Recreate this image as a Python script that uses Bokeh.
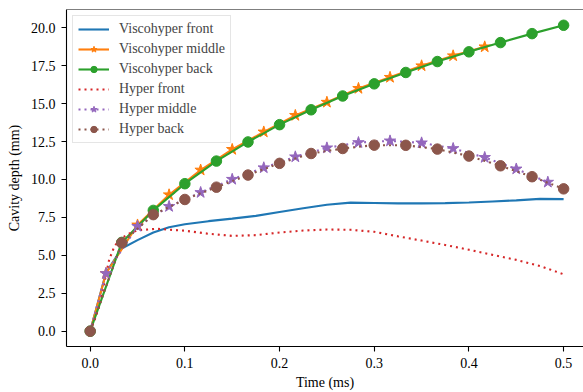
from bokeh.plotting import figure
from bokeh.models import Legend, LegendItem, Span, Range1d
from bokeh.embed import file_html
from bokeh.resources import INLINE

# ---- data (time in ms, depth in mm) ----
t_vf = [0, 0.0167, 0.0333, 0.05, 0.0667, 0.0833, 0.1, 0.125, 0.15, 0.175, 0.2, 0.225, 0.25,
        0.275, 0.3, 0.325, 0.35, 0.375, 0.4, 0.425, 0.45, 0.475, 0.5]
v_vf = [0, 3.85, 5.45, 6.0, 6.5, 6.85, 7.05, 7.25, 7.42, 7.6, 7.85, 8.1, 8.33,
        8.47, 8.45, 8.42, 8.42, 8.44, 8.48, 8.55, 8.62, 8.72, 8.70]

t_vm = [0, 1/60, 3/60, 5/60, 7/60, 9/60, 11/60, 13/60, 15/60, 17/60, 19/60, 21/60, 23/60, 25/60]
v_vm = [0, 3.8, 7.0, 8.99, 10.62, 11.98, 13.13, 14.22, 15.09, 16.0, 16.73, 17.49, 18.15, 18.74]

t_vb = [k / 30 for k in range(16)]
v_vb = [0, 5.85, 7.96, 9.72, 11.21, 12.47, 13.61, 14.59, 15.5, 16.3, 17.05, 17.77, 18.41, 19.02, 19.61, 20.16]

t_hf = [0, 0.005, 0.01, 0.015, 0.02, 0.025, 0.03, 0.04, 0.05, 0.07, 0.1, 0.125, 0.15, 0.175,
        0.2, 0.225, 0.25, 0.275, 0.3, 0.325, 0.35, 0.375, 0.4, 0.425, 0.45, 0.475, 0.5]
v_hf = [0, 0.8, 1.7, 3.2, 4.7, 5.5, 6.0, 6.4, 6.65, 6.75, 6.62, 6.42, 6.28, 6.33,
        6.5, 6.63, 6.7, 6.68, 6.55, 6.25, 5.97, 5.68, 5.37, 5.03, 4.7, 4.3, 3.75]

t_hm = [0] + [(2 * k + 1) / 60 for k in range(15)]
v_hm = [0, 3.8, 6.91, 8.22, 9.14, 10.01, 10.77, 11.49, 12.08, 12.43, 12.54, 12.41, 12.04, 11.45, 10.69, 9.82]

t_hb = [k / 30 for k in range(16)]
v_hb = [0, 5.82, 7.68, 8.68, 9.49, 10.29, 11.06, 11.71, 12.04, 12.26, 12.25, 12.0, 11.54, 10.9, 10.18, 9.38]

x_ticks = [0.0, 0.1, 0.2, 0.3, 0.4, 0.5]
y_ticks = [0.0, 2.5, 5.0, 7.5, 10.0, 12.5, 15.0, 17.5, 20.0]

FONT = "Liberation Serif"
FS = "14px"

p = figure(width=583, height=392, output_backend="svg", toolbar_location=None,
           x_range=Range1d(-0.025, 0.521), y_range=Range1d(-1.01, 21.2),
           min_border_left=66, min_border_right=0, min_border_top=9, min_border_bottom=45)
p.outline_line_color = None
p.xgrid.visible = False
p.ygrid.visible = False
p.background_fill_color = "white"

for axes in (p.xaxis, p.yaxis):
    axes.axis_line_color = "black"
    axes.axis_line_width = 1.1
    axes.major_tick_line_color = "black"
    axes.major_tick_line_width = 1.1
    axes.major_tick_out = 5
    axes.major_tick_in = 0
    axes.minor_tick_line_color = None
    axes.major_label_text_font = FONT
    axes.major_label_text_font_size = FS
    axes.major_label_text_color = "black"
    axes.axis_label_text_font = FONT
    axes.axis_label_text_font_size = FS
    axes.axis_label_text_font_style = "normal"
    axes.axis_label_text_color = "black"

p.xaxis.ticker = x_ticks
p.yaxis.ticker = y_ticks
p.xaxis.major_label_overrides = {v: f"{v:.1f}" for v in x_ticks}
p.yaxis.major_label_overrides = {v: f"{v:.1f}" for v in y_ticks}
p.xaxis.axis_label = "Time (ms)"
p.yaxis.axis_label = "Cavity depth (mm)"
p.xaxis.major_label_standoff = 6
p.xaxis.axis_label_standoff = 4
p.yaxis.major_label_standoff = 6
p.yaxis.axis_label_standoff = 6

top = Span(location=21.2, dimension="width", line_color="black", line_width=1.1)
p.add_layout(top)

LW = 2.1
blue, orange, green, red, purple, brown = "#1f77b4", "#ff7f0e", "#2ca02c", "#d62728", "#9467bd", "#8c564b"
DOT = "2 4"

r_vf = p.line(t_vf, v_vf, color=blue, line_width=LW)

r_vm = p.line(t_vm, v_vm, color=orange, line_width=LW)
s_vm = p.scatter(t_vm[1:], v_vm[1:], marker="star", size=12, color=orange)

r_vb = p.line(t_vb, v_vb, color=green, line_width=LW)
s_vb = p.scatter(t_vb, v_vb, marker="circle", size=10.5, color=green)

r_hf = p.line(t_hf, v_hf, color=red, line_width=LW, line_dash=DOT)

r_hm = p.line(t_hm, v_hm, color=purple, line_width=LW, line_dash=DOT)
s_hm = p.scatter(t_hm[1:], v_hm[1:], marker="star", size=12, color=purple)

r_hb = p.line(t_hb, v_hb, color=brown, line_width=LW, line_dash=DOT)
s_hb = p.scatter(t_hb, v_hb, marker="circle", size=10.5, color=brown)

legend = Legend(items=[
    LegendItem(label="Viscohyper front", renderers=[r_vf]),
    LegendItem(label="Viscohyper middle", renderers=[r_vm, s_vm]),
    LegendItem(label="Viscohyper back", renderers=[r_vb, s_vb]),
    LegendItem(label="Hyper front", renderers=[r_hf]),
    LegendItem(label="Hyper middle", renderers=[r_hm, s_hm]),
    LegendItem(label="Hyper back", renderers=[r_hb, s_hb]),
], location="top_left")
legend.margin = 6
legend.padding = 5
legend.spacing = 4
legend.glyph_width = 31
legend.glyph_height = 16
legend.label_height = 16
legend.label_standoff = 10
legend.label_text_font = FONT
legend.label_text_font_size = FS
legend.border_line_color = "#cccccc"
legend.border_line_width = 1
legend.background_fill_alpha = 0.8
p.add_layout(legend)

open("out.html", "w").write(file_html(p, INLINE))
